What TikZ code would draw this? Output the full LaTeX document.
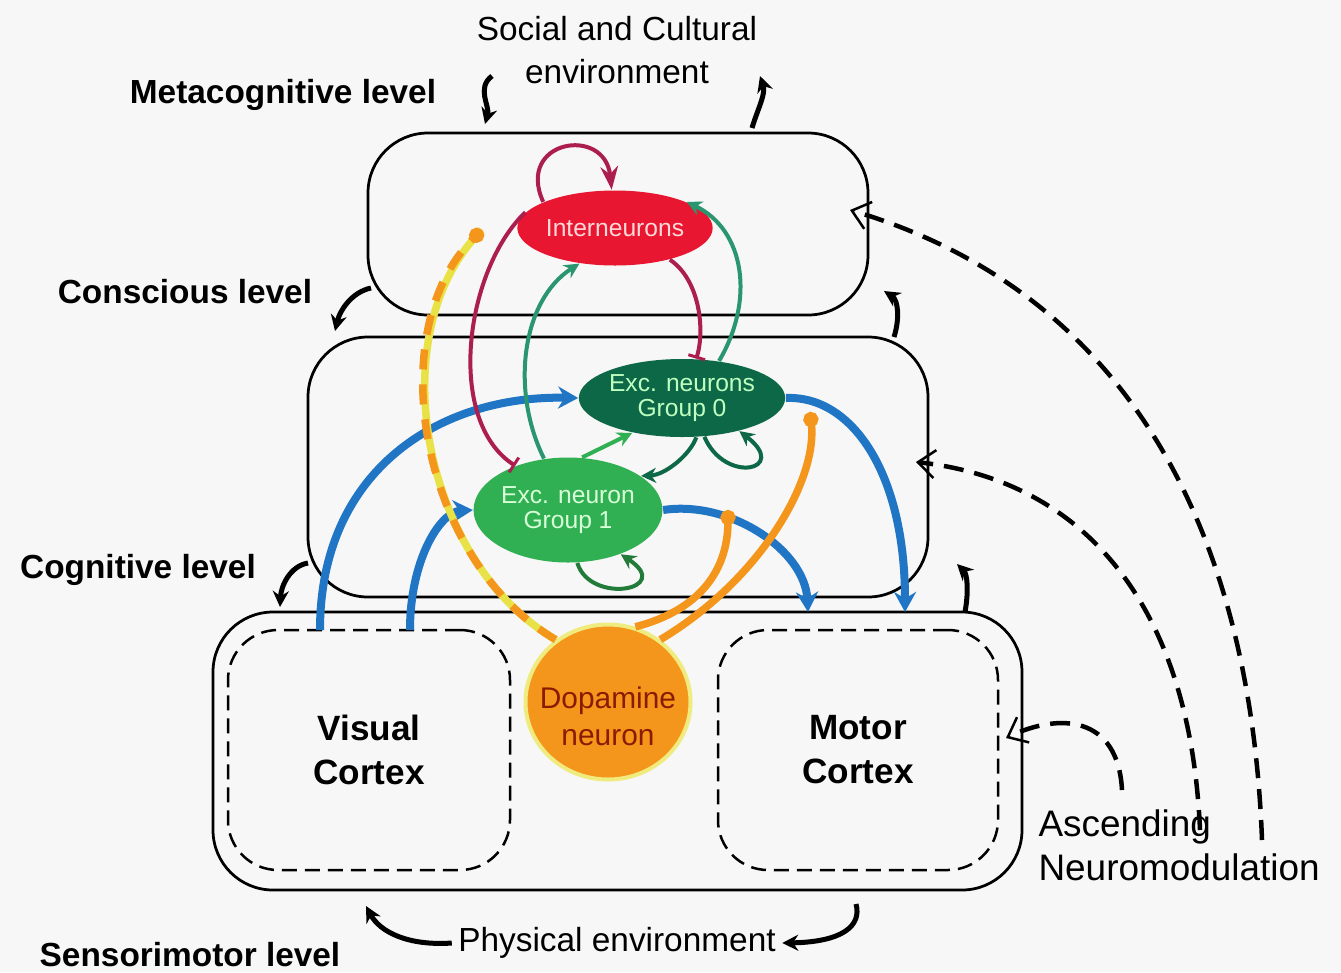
\documentclass[tikz,border=0pt]{standalone}
\usepackage{fontspec}
\setmainfont{Liberation Sans}
\usepackage{xcolor}
\usetikzlibrary{arrows,arrows.meta,shapes,positioning,calc}

\definecolor{bggray}{RGB}{247,247,247}
\definecolor{axblue}{RGB}{32,118,196}
\definecolor{inhred}{RGB}{232,22,48}
\definecolor{inhline}{RGB}{172,30,78}
\definecolor{excdark}{RGB}{12,104,70}
\definecolor{exclight}{RGB}{48,176,82}
\definecolor{excline}{RGB}{42,150,112}
\definecolor{daorange}{RGB}{245,150,28}
\definecolor{dayellow}{RGB}{232,226,70}
\definecolor{datext}{RGB}{140,26,0}

\begin{document}
\begin{tikzpicture}[x=0.2mm, y=-0.2mm, thick, >=Stealth,
    levelbox/.style={draw, line width=0.55mm, rounded corners=12mm},
    cortexbox/.style={draw, dash pattern=on 3mm off 1.6mm, line width=0.5mm, rounded corners=10mm,
        align=center, font=\bfseries\fontsize{20}{25}\selectfont},
    neuron/.style={ellipse, inner sep=0pt, align=center, font=\fontsize{14}{14.5}\selectfont},
    lbl/.style={font=\fontsize{19}{24}\selectfont, align=center},
    lvl/.style={font=\bfseries\fontsize{19}{24}\selectfont},
    flow/.style={-{Stealth[length=3.2mm,width=3.2mm]}, line width=1mm},
    neuromod/.style={-{Straight Barb[length=3.4mm,width=5.6mm,line width=0.5mm]}, line width=0.9mm,
        dash pattern=on 4mm off 2.2mm},
    axon/.style={-{Stealth[length=4mm,width=4.4mm]}, axblue, line width=1.6mm},
    inhib/.style={-{Bar[width=3.5mm,line width=0.6mm]}, inhline, line width=0.8mm},
    excit/.style={-{Stealth[length=3mm,width=3mm]}, excline, line width=0.8mm},
    damod/.style={-{Circle[length=3mm]}, daorange, line width=1.5mm}]

    % Background and size
    \fill[bggray] (0,0) rectangle (1341,972);
    \useasboundingbox (0,0) rectangle (1341,972);

    % Levels
    \node[levelbox, minimum width=100mm, minimum height=36.4mm] (meta) at (618,224) {};
    \node[levelbox, minimum width=124mm, minimum height=52mm] (cogn) at (618,467) {};
    \node[levelbox, minimum width=161.8mm, minimum height=55.6mm] (sens) at (617.5,751) {};
    \node[cortexbox, minimum width=56.4mm, minimum height=48mm] (vis) at (369,750) {Visual\\Cortex};
    \node[cortexbox, minimum width=56mm, minimum height=48mm] (mot) at (858,750) {Motor\\Cortex};

    % Neurons
    \node[ellipse, fill=daorange, draw=dayellow!70, line width=0.8mm, minimum width=33mm, minimum height=31mm,
        inner sep=0pt] (da) at (608,702) {};
    \node[align=center, text=datext, font=\fontsize{17}{21}\selectfont] (dalbl) at (608,716) {Dopamine\\neuron};
    \node[neuron, fill=inhred, text=red!15, minimum width=30mm, minimum height=15mm] (inter) at (615,228) {Interneurons};
    \node[neuron, fill=excdark, text=green!25, minimum width=32mm, minimum height=15.6mm] (grp0) at (682,398) {Exc. neurons\\Group 0};
    \node[neuron, fill=exclight, text=green!15, minimum width=33mm, minimum height=21mm] (grp1) at (568,510) {Exc. neuron\\Group 1};

    % Labels
    \node[lbl] (social) at (617,50) {Social and Cultural\\environment};
    \node[lvl] (metalbl) at (283,95) {Metacognitive level};
    \node[lvl] (conslbl) at (185,292) {Conscious level};
    \node[lvl] (cognlbl) at (138,570) {Cognitive level};
    \node[lvl] (senslbl) at (190,955) {Sensorimotor level};
    \node[lbl] (phys) at (617,943) {Physical environment};
    \node[lbl, align=left, anchor=west, font=\fontsize{21}{25}\selectfont] (ascnm) at (1032,845) {Ascending\\Neuromodulation};

    % Arrow ends
    \coordinate (soc1) at (492,76);
    \coordinate (meta1) at (485,124);
    \coordinate (meta2) at (752,128);
    \coordinate (soc2) at (760,76);
    \coordinate (meta3) at (371,288);
    \coordinate (cons1) at (335,331);
    \coordinate (cogn1) at (894,337);
    \coordinate (meta4) at (884,291);
    \coordinate (cogn2) at (308,563);
    \coordinate (sens1) at (280,607);
    \coordinate (sens2) at (965,612);
    \coordinate (cogn3) at (957,564);
    \coordinate (sens3) at (366,906);
    \coordinate (sens4) at (856,904);
    \coordinate (nm1) at (1122,790);
    \coordinate (nm2) at (1200,830);
    \coordinate (nm3) at (1262,840);
    \coordinate (sens5) at (1006,738);
    \coordinate (cogn4) at (916,462);
    \coordinate (meta5) at (850,210);
    \coordinate (vis1) at (320,630);
    \coordinate (vis2) at (410,630);
    \coordinate (mot1) at (808,612);
    \coordinate (mot2) at (905,612);
    \coordinate (syn0) at (810,412);
    \coordinate (syn1) at (728,510);
    \coordinate (syni) at (482,230);

    % Level loops
    \draw[flow] (soc1) .. controls (476,88) and (490,106) .. (meta1);
    \draw[flow] (meta2) .. controls (758,108) and (766,94) .. (soc2);
    \draw[flow] (meta3) .. controls (352,292) and (340,310) .. (cons1);
    \draw[flow] (cogn1) .. controls (900,318) and (898,300) .. (meta4);
    \draw[flow] (cogn2) .. controls (290,566) and (281,586) .. (sens1);
    \draw[flow] (sens2) .. controls (969,590) and (967,574) .. (cogn3);
    \draw[flow] (phys.west) .. controls (408,946) and (380,932) .. (sens3);
    \draw[flow] (sens4) .. controls (862,926) and (842,942) .. (phys.east);

    % Ascending neuromodulation
    \draw[neuromod] (nm1) .. controls (1118,716) and (1060,712) .. (sens5);
    \draw[neuromod] (nm2) .. controls (1190,600) and (1080,480) .. (cogn4);
    \draw[neuromod] (nm3) .. controls (1250,520) and (1120,290) .. (meta5);

    % Sensory and motor pathways
    \draw[axon] (vis1) .. controls (320,470) and (440,395) .. (grp0.west);
    \draw[axon] (vis2) .. controls (410,560) and (440,512) .. (grp1.west);
    \draw[axon] (grp0.east) .. controls (850,395) and (905,470) .. (mot2);
    \draw[axon] (grp1.east) .. controls (730,500) and (805,550) .. (mot1);

    % Inhibition
    \draw[inhline, line width=0.8mm, ->] (inter.160) .. controls (515,140) and (605,125) .. (inter.95);
    \draw[inhib] (inter.170) .. controls (465,270) and (445,420) .. (grp1.140);
    \draw[inhib] (inter.-30) .. controls (700,280) and (705,330) .. (grp0.70);

    % Excitation
    \draw[excit] (grp1.115) .. controls (510,390) and (522,300) .. (inter.-135);
    \draw[excit] (grp0.45) .. controls (755,300) and (745,230) .. (inter.20);
    \draw[excit, exclight] (grp1.75) -- (grp0.-145);
    \draw[excit, excdark] (grp0.-70) .. controls (690,455) and (665,475) .. (grp1.25);
    \draw[excit, excdark] (grp0.-60) .. controls (725,485) and (790,470) .. (grp0.-30);
    \draw[excit, exclight!70!black] (grp1.-80) .. controls (590,605) and (675,590) .. (grp1.-40);

    % Dopamine modulation
    \draw[damod] (da.50) .. controls (760,580) and (818,480) .. (syn0);
    \draw[damod] (da.70) .. controls (700,610) and (728,570) .. (syn1);
    \draw[dayellow, line width=1.5mm] (da.130) .. controls (420,560) and (380,330) .. (syni);
    \draw[damod, dash pattern=on 4mm off 3mm] (da.130) .. controls (420,560) and (380,330) .. (syni);
\end{tikzpicture}
\end{document}
